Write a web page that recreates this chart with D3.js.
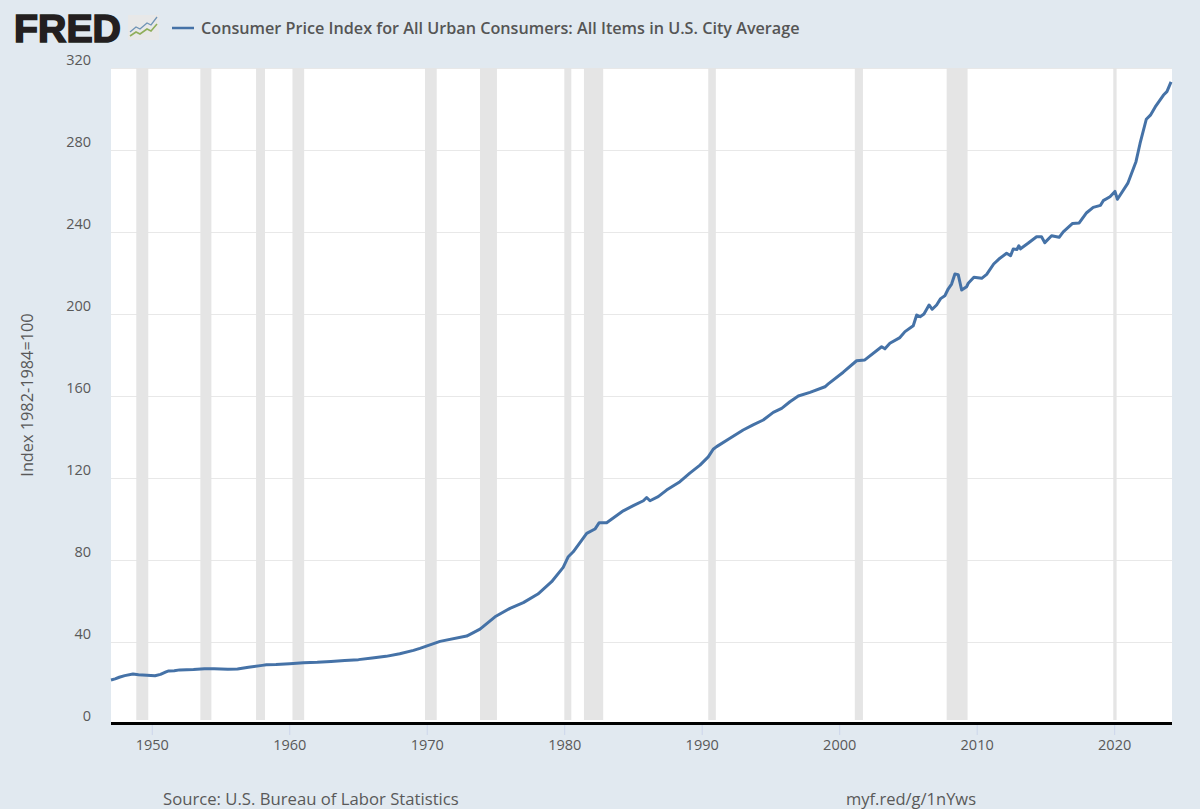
<!DOCTYPE html>
<html><head><meta charset="utf-8">
<script src="https://cdn.jsdelivr.net/npm/d3@7/dist/d3.min.js"></script>
<style>html,body{margin:0;padding:0;background:#e1e9f0}svg{display:block}text{font-family:"Open Sans",sans-serif}</style>
</head><body><svg id="c" width="1200" height="809"></svg>
<script>
const years=[1947,1947.3,1947.6,1948,1948.6,1949,1949.9,1950.2,1950.6,1951,1951.2,1951.6,1952,1953,1953.8,1954.5,1955.5,1956.2,1957,1958,1958.3,1959,1960,1961,1962,1963,1964,1965,1966,1967,1968,1969,1969.47,1970.93,1972.87,1973.84,1974.93,1976.02,1976.99,1978.05,1979.05,1979.89,1980.26,1980.62,1981.6,1982.2,1982.51,1983.05,1984.26,1984.99,1985.72,1985.96,1986.2,1986.8,1987.41,1988.38,1989.1,1989.84,1990.44,1990.8,1991.05,1992.02,1992.98,1993.7,1994.44,1995.17,1995.78,1996.38,1996.99,1997.84,1998.93,1999.17,2000.26,2001.23,2001.83,2003.05,2003.29,2003.65,2004.38,2004.75,2005.35,2005.6,2005.85,2006.13,2006.5,2006.73,2007.05,2007.34,2007.65,2007.9,2008.14,2008.38,2008.62,2008.87,2009.23,2009.35,2009.76,2010.33,2010.69,2011.2,2011.58,2012.14,2012.43,2012.62,2012.9,2013.03,2013.15,2013.7,2014.32,2014.68,2014.92,2015.41,2015.96,2016.26,2016.94,2017.42,2017.96,2018.44,2018.97,2019.17,2019.66,2020.02,2020.2,2020.95,2021.55,2021.85,2022.3,2022.6,2022.95,2023.55,2023.8,2024.1];
const cpi=[21.5,22,22.8,23.6,24.4,24,23.6,23.5,24.2,25.4,25.9,26,26.4,26.6,26.9,26.9,26.7,26.8,27.7,28.6,28.9,29,29.4,29.9,30.1,30.5,31,31.4,32.2,33,34.3,35.9,36.9,40.3,42.9,46.3,52.3,56.4,59.2,63.4,69.4,76.4,81.6,84,93,95.1,98.2,98.2,104,106.5,108.9,110.5,108.9,110.9,114.1,118.2,122.4,126.3,130.3,134,135.3,139.4,143.4,145.9,148.3,152,154,157.2,160,161.8,164.5,165.9,171.6,177.2,177.6,184,183,185.7,188.5,191.4,194.3,199.5,198.7,200,204.4,202.3,204.4,207.5,208.9,212.3,214.6,219.5,219.2,211.7,213.3,215,217.9,217.4,219.3,224.4,226.8,229.6,228.4,231.7,231.5,233.3,231.8,234.5,237.7,237.7,234.8,238.2,237.4,240.1,244.2,244.4,249.4,252,253,255.3,257.2,259.8,256,263.7,274.3,283.3,295,297,301,306.8,308.5,313.2];
const recessionStart=[1948.84,1953.5,1957.55,1960.2,1969.84,1973.84,1979.97,1981.4,1990.44,2001.1,2007.78,2019.9];
const recessionEnd=[1949.71,1954.3,1958.2,1961.05,1970.69,1975.07,1980.48,1982.8,1990.99,2001.69,2009.3,2020.14];
const yTicks=[0,40,80,120,160,200,240,280,320];
const xTicks=[1950,1960,1970,1980,1990,2000,2010,2020];
const title="Consumer Price Index for All Urban Consumers: All Items in U.S. City Average";
const yTitle="Index 1982-1984=100";
const source="Source: U.S. Bureau of Labor Statistics";
const shortUrl="myf.red/g/1nYws";
const iconBlue=[[0,15],[6,10],[10,12],[17,6],[21,8],[27,0]];
const iconGreen=[[0,19],[6,15],[10,17],[17,12],[21,14],[27,7]];

const svg=d3.select("#c");
const x=d3.scaleLinear().domain([1947,2024.17]).range([111,1172]);
const y=d3.scaleLinear().domain([0,320]).range([724,68]);
const txt="#595959";

svg.append("rect").attr("x",111).attr("y",68).attr("width",1061).attr("height",655).attr("fill","#fff");
svg.append("g").selectAll("line").data(yTicks.slice(1)).join("line")
 .attr("x1",111).attr("x2",1172).attr("y1",d=>y(d)+.5).attr("y2",d=>y(d)+.5)
 .attr("stroke","#e8e8e8").attr("stroke-width",1);
svg.append("g").selectAll("rect").data(recessionStart).join("rect")
 .attr("x",d=>x(d)).attr("width",(d,i)=>x(recessionEnd[i])-x(d))
 .attr("y",68).attr("height",652).attr("fill","#e5e5e5");
svg.append("g").selectAll("line").data(xTicks).join("line")
 .attr("x1",d=>x(d)).attr("x2",d=>x(d)).attr("y1",725).attr("y2",735)
 .attr("stroke","#ccd6eb");
svg.append("line").attr("x1",111).attr("x2",1172).attr("y1",723.5).attr("y2",723.5)
 .attr("stroke","#000").attr("stroke-width",3);
const line=d3.line().x((d,i)=>x(years[i])).y(d=>y(d));
svg.append("path").datum(cpi).attr("d",line).attr("fill","none")
 .attr("stroke","#4572a7").attr("stroke-width",3).attr("stroke-linejoin","round");

svg.append("g").selectAll("text").data(yTicks).join("text")
 .attr("x",91).attr("y",d=>y(d)-3).attr("text-anchor","end").attr("font-size",14.5).attr("fill",txt).text(d=>d);
svg.append("g").selectAll("text").data(xTicks).join("text")
 .attr("x",d=>x(d)).attr("y",750).attr("text-anchor","middle").attr("font-size",14.5).attr("fill",txt).text(d=>d);
svg.append("text").attr("transform","translate(33,395) rotate(-90)").attr("text-anchor","middle")
 .attr("font-size",16.3).attr("fill",txt).text(yTitle);
svg.append("text").attr("x",163).attr("y",805).attr("font-size",16.7).attr("fill",txt).text(source);
svg.append("text").attr("x",846).attr("y",805).attr("font-size",16.5).attr("fill",txt).text(shortUrl);

svg.append("line").attr("x1",172).attr("x2",194).attr("y1",28).attr("y2",28).attr("stroke","#4572a7").attr("stroke-width",2.5);
svg.append("text").attr("x",201).attr("y",34).attr("font-size",16.2).attr("font-weight",600).attr("fill","#555").text(title);

svg.append("text").attr("x",14).attr("y",42).attr("font-size",38).attr("font-weight",700)
 .attr("textLength",107).attr("lengthAdjust","spacingAndGlyphs")
 .style("font-family","'Liberation Sans',sans-serif").attr("fill","#231f20").attr("stroke","#231f20").attr("stroke-width",1.6).text("FRED");
const icon=svg.append("g").attr("transform","translate(130,17)");
icon.append("rect").attr("x",-2).attr("y",-2).attr("width",31).attr("height",25).attr("fill","#e8e8e8");
const il=d3.line();
icon.append("path").attr("d",il(iconBlue)).attr("fill","none").attr("stroke","#6f93b5").attr("stroke-width",1.3);
icon.append("path").attr("d",il(iconGreen)).attr("fill","none").attr("stroke","#8fae5a").attr("stroke-width",1.6);
</script></body></html>
